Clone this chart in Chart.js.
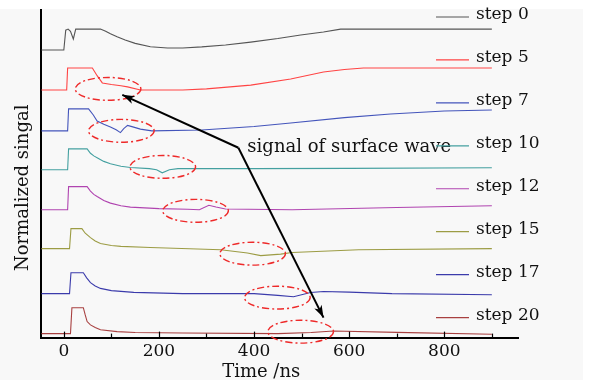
<!DOCTYPE html>
<html>
<head>
<meta charset="utf-8">
<script src="https://cdn.jsdelivr.net/npm/chart.js@4.4.1/dist/chart.umd.min.js"></script>
<style>
  html, body { margin: 0; padding: 0; background: #fff; }
  canvas { display: block; }
</style>
</head>
<body>
<canvas id="myChart" width="591" height="380"></canvas>
<script>
// step labels, vertical offset of each trace, and the traces as [time ns, signal]
const stepLabels = ['step 0', 'step 5', 'step 7', 'step 10', 'step 12', 'step 15', 'step 17', 'step 20'];
const offsets = [13.09, 11.27, 9.41, 7.64, 5.82, 4.05, 2.0, 0.18];
const xTicks = [0, 200, 400, 600, 800];

const step0 = [[-47,0],[0,0],[4,0.9],[9,0.95],[14,0.85],[20,0.5],[25,0.95],[77,0.95],[88,0.85],[98,0.74],[112,0.6],[129,0.45],[150,0.3],[182,0.15],[218,0.09],[250,0.09],[290,0.14],[340,0.23],[393,0.36],[450,0.52],[498,0.68],[546,0.82],[582,0.95],[900,0.95]];
const step5 = [[-47,0],[6,0],[8,1],[60,1],[70,0.65],[81,0.32],[100,0.25],[120,0.19],[134,0.14],[161,0],[250,0],[300,0.05],[393,0.22],[477,0.5],[546,0.82],[590,0.93],[630,1],[900,1]];
const step7 = [[-47,0],[8,0],[10,1],[52,1],[62,0.72],[70,0.45],[84,0.3],[98,0.18],[110,0.05],[119,-0.08],[126,0.1],[134,0.25],[145,0.18],[161,0.08],[185,0],[290,0.04],[400,0.2],[477,0.36],[590,0.6],[687,0.77],[800,0.9],[900,0.95]];
const step10 = [[-47,0],[8,0],[10,0.95],[49,0.95],[56,0.75],[63,0.63],[70,0.55],[84,0.38],[98,0.27],[120,0.16],[140,0.1],[180,0.05],[195,0],[207,-0.14],[222,0],[240,0.05],[400,0.05],[600,0.06],[900,0.09]];
const step12 = [[-47,0],[8,0],[10,1.05],[49,1.05],[56,0.85],[63,0.7],[70,0.6],[84,0.42],[98,0.3],[120,0.18],[140,0.12],[200,0.05],[260,0.02],[285,0],[305,0.2],[320,0.12],[340,0.03],[480,0],[700,0.1],[900,0.18]];
const step15 = [[-47,0],[12,0],[15,0.91],[38,0.91],[45,0.7],[56,0.5],[66,0.35],[77,0.23],[100,0.14],[120,0.1],[182,0.05],[330,-0.05],[386,-0.2],[414,-0.32],[456,-0.25],[480,-0.18],[620,-0.05],[900,0]];
const step17 = [[-47,0],[12,0],[15,0.95],[41,0.95],[48,0.72],[56,0.5],[66,0.35],[77,0.24],[100,0.14],[147,0.06],[250,0],[400,0],[450,-0.08],[483,-0.14],[519,0.05],[546,0.1],[600,0.07],[690,0],[900,-0.05]];
const step20 = [[-47,0],[14,0],[17,1.18],[41,1.18],[45,0.85],[49,0.55],[56,0.4],[66,0.28],[77,0.18],[112,0.09],[150,0.05],[250,0.03],[450,0],[520,0.05],[567,0.12],[700,0.06],[900,-0.03]];
const traces = [step0, step5, step7, step10, step12, step15, step17, step20];

// red dash-dot ellipses marking the surface wave: [time ns, trace index, dy]
const markTimes = [93, 121, 208, 277, 397, 449, 498];
const markTraces = [1, 2, 3, 4, 5, 6, 7];
const markDy = [0.05, 0.0, 0.13, -0.05, -0.23, -0.18, 0.09];

// arrow: kink point and two tips, in [time ns, value]
const arrowKink = [367, 8.64];
const arrowTips = [[123, 11.05], [546, 0.91]];
const noteText = 'signal of surface wave';

const colors = ['#555555', '#ff4444', '#4455bb', '#44a0a0', '#b044b0', '#9c9c44', '#3b3bab', '#a84040'];

const datasets = traces.map((pts, i) => ({
  label: stepLabels[i],
  data: pts.map(p => ({ x: p[0], y: offsets[i] + p[1] })),
  borderColor: colors[i],
  borderWidth: 1.1,
  pointRadius: 0,
  fill: false,
  tension: 0
}));

const serif = 'DejaVu Serif';

const decor = {
  id: 'decor',
  beforeDraw(chart) {
    const c = chart.ctx;
    c.save();
    c.fillStyle = '#ffffff';
    c.fillRect(0, 0, chart.width, chart.height);
    c.fillStyle = '#f8f8f8';
    c.fillRect(0, 9, 583, chart.height - 9);
    c.restore();
  },
  afterDraw(chart) {
    const c = chart.ctx;
    const xs = chart.scales.x, ys = chart.scales.y;
    const a = chart.chartArea;
    c.save();

    // inward tick marks on the x axis
    c.strokeStyle = '#000';
    c.lineWidth = 1.2;
    for (let v = 0; v <= xs.max; v += 100) {
      const px = Math.round(xs.getPixelForValue(v)) + 0.5;
      const len = v % 200 === 0 ? 6 : 4;
      c.beginPath();
      c.moveTo(px, a.bottom);
      c.lineTo(px, a.bottom - len);
      c.stroke();
    }

    // ellipses
    c.strokeStyle = '#ee2a2a';
    c.lineWidth = 1.4;
    c.setLineDash([7, 3, 2, 3]);
    markTimes.forEach((t, i) => {
      const cx = xs.getPixelForValue(t);
      const cy = ys.getPixelForValue(offsets[markTraces[i]] + markDy[i]);
      const rx = xs.getPixelForValue(t + 69) - cx;
      const ry = cy - ys.getPixelForValue(offsets[markTraces[i]] + markDy[i] + 0.52);
      c.beginPath();
      c.ellipse(cx, cy, rx, ry, 0, 0, Math.PI * 2);
      c.stroke();
    });
    c.setLineDash([]);

    // arrows
    const kx = xs.getPixelForValue(arrowKink[0]), ky = ys.getPixelForValue(arrowKink[1]);
    c.strokeStyle = '#000';
    c.fillStyle = '#000';
    c.lineWidth = 2;
    arrowTips.forEach(tp => {
      const tx = xs.getPixelForValue(tp[0]), ty = ys.getPixelForValue(tp[1]);
      c.beginPath();
      c.moveTo(kx, ky);
      c.lineTo(tx, ty);
      c.stroke();
      const ang = Math.atan2(ty - ky, tx - kx);
      const L = 13, w = 0.32;
      c.beginPath();
      c.moveTo(tx, ty);
      c.lineTo(tx - L * Math.cos(ang - w), ty - L * Math.sin(ang - w));
      c.lineTo(tx - L * 0.7 * Math.cos(ang), ty - L * 0.7 * Math.sin(ang));
      c.lineTo(tx - L * Math.cos(ang + w), ty - L * Math.sin(ang + w));
      c.closePath();
      c.fill();
    });

    c.font = '18px "' + serif + '"';
    c.fillStyle = '#111';
    c.textBaseline = 'alphabetic';
    c.textAlign = 'left';
    c.fillText(noteText, kx + 9, ky + 4);

    // legend inside the plot on the right
    c.font = '17px "' + serif + '"';
    c.textBaseline = 'middle';
    const first = a.top + 6, last = a.bottom - 21;
    const gap = (last - first) / (stepLabels.length - 1);
    stepLabels.forEach((lab, i) => {
      const y = first + i * gap;
      c.strokeStyle = colors[i];
      c.lineWidth = 1.2;
      c.beginPath();
      c.moveTo(a.right - 82, y + 1);
      c.lineTo(a.right - 49, y + 1);
      c.stroke();
      c.fillStyle = '#111';
      c.fillText(lab, a.right - 42, y - 1);
    });

    // axis titles
    c.font = '18px "' + serif + '"';
    c.textAlign = 'center';
    c.textBaseline = 'alphabetic';
    c.fillText('Time /ns', xs.getPixelForValue(415), 377);
    c.translate(23, (a.top + a.bottom) / 2 + 14);
    c.rotate(-Math.PI / 2);
    c.textBaseline = 'middle';
    c.fillText('Normalized singal', 0, 0);
    c.restore();
  }
};

const ctx = document.getElementById('myChart').getContext('2d');
const myChart = new Chart(ctx, {
  type: 'line',
  data: { datasets: datasets },
  options: {
    responsive: false,
    animation: false,
    layout: { padding: { left: 41, right: 73, top: 10, bottom: 14 } },
    plugins: { legend: { display: false }, tooltip: { enabled: false } },
    scales: {
      x: {
        type: 'linear',
        min: -48,
        max: 955,
        grid: { display: false, drawTicks: false },
        border: { display: true, color: '#000', width: 2 },
        afterBuildTicks: s => { s.ticks = xTicks.map(v => ({ value: v })); },
        ticks: { color: '#111', padding: 4, font: { family: serif, size: 17 } }
      },
      y: {
        min: 0,
        max: 14.91,
        grid: { display: false, drawTicks: false },
        border: { display: true, color: '#000', width: 2 },
        ticks: { display: false }
      }
    }
  },
  plugins: [decor]
});
</script>
</body>
</html>
